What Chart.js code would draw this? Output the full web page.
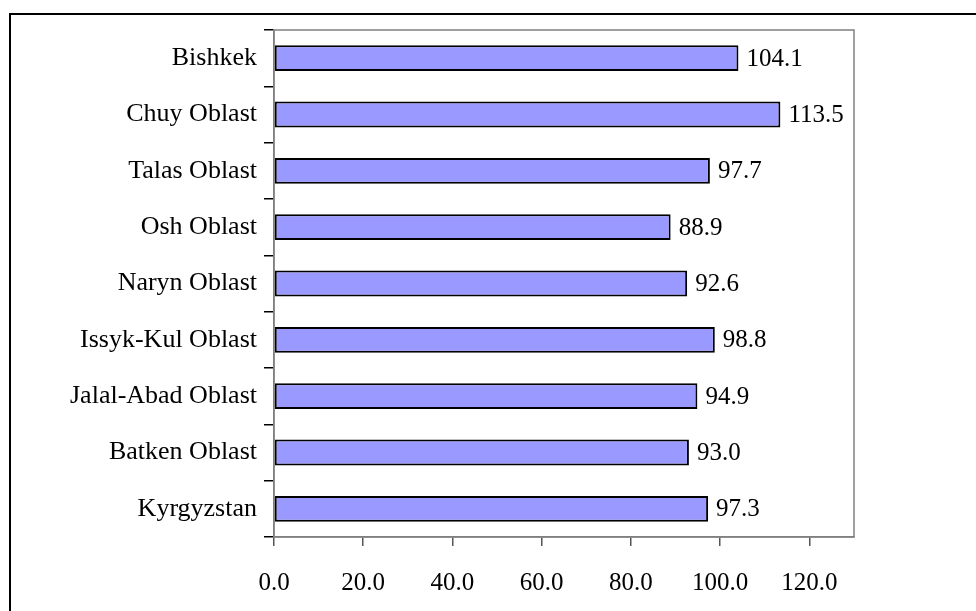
<!DOCTYPE html>
<html>
<head>
<meta charset="utf-8">
<script src="https://cdn.jsdelivr.net/npm/chart.js@4"></script>
<style>
  html, body { margin: 0; padding: 0; background: #fff; overflow: hidden; }
  #frame { position: absolute; left: 9px; top: 13px; width: 1000px; height: 700px; border: 2px solid #000; box-sizing: border-box; }
  #wrap { position: absolute; left: 0; top: 0; width: 976px; height: 611px; }
</style>
</head>
<body>
<div id="frame"></div>
<div id="wrap"><canvas id="barChart"></canvas></div>
<script>
const regions = ['Bishkek', 'Chuy Oblast', 'Talas Oblast', 'Osh Oblast', 'Naryn Oblast',
  'Issyk-Kul Oblast', 'Jalal-Abad Oblast', 'Batken Oblast', 'Kyrgyzstan'];
const values = [104.1, 113.5, 97.7, 88.9, 92.6, 98.8, 94.9, 93.0, 97.3];
const xTicks = [0, 20, 40, 60, 80, 100, 120];

const serif = '"Liberation Serif", "Times New Roman", serif';
const font = { family: serif, size: 25 };

// value labels at the end of each bar + gray frame round the plot area
const extras = {
  id: 'extras',
  afterDatasetsDraw(chart) {
    const ctx = chart.ctx;
    const meta = chart.getDatasetMeta(0);
    ctx.save();
    ctx.font = font.size + 'px ' + font.family;
    ctx.fillStyle = '#000';
    ctx.textAlign = 'left';
    ctx.textBaseline = 'middle';
    meta.data.forEach((bar, i) => {
      ctx.fillText(values[i].toFixed(1), bar.x + 8, bar.y + 1);
    });
    const a = chart.chartArea;
    ctx.strokeStyle = '#808080';
    ctx.lineWidth = 1.5;
    ctx.strokeRect(a.left, a.top, a.right - a.left, a.bottom - a.top);
    ctx.restore();
  }
};

const ctx = document.getElementById('barChart').getContext('2d');
new Chart(ctx, {
  type: 'bar',
  data: {
    labels: regions,
    datasets: [{
      data: values,
      backgroundColor: '#9999FF',
      borderColor: '#000',
      borderWidth: 2,
      borderSkipped: false,
      barPercentage: 0.46,
      categoryPercentage: 1
    }]
  },
  options: {
    indexAxis: 'y',
    responsive: true,
    maintainAspectRatio: false,
    animation: false,
    layout: { padding: { top: 30, right: 122, left: 0, bottom: 0 } },
    plugins: { legend: { display: false }, tooltip: { enabled: false } },
    scales: {
      x: {
        min: 0,
        max: 130,
        afterFit: s => { s.height = 74; },
        afterBuildTicks: s => { s.ticks = xTicks.map(v => ({ value: v })); },
        ticks: { color: '#000', font: font, padding: 22, maxRotation: 0, autoSkip: false,
          callback: v => Number(v).toFixed(1) },
        grid: { drawOnChartArea: false, tickLength: 9, color: '#555', lineWidth: 1.5 },
        border: { color: '#808080', width: 1.5 }
      },
      y: {
        afterFit: s => { s.width = 274; },
        ticks: { color: '#000', font: { family: serif, size: 26 }, padding: 7, autoSkip: false },
        grid: { drawOnChartArea: false, offset: true, tickLength: 10, color: '#000', lineWidth: 1.5 },
        border: { color: '#808080', width: 1.5 }
      }
    }
  },
  plugins: [extras]
});
</script>
</body>
</html>
